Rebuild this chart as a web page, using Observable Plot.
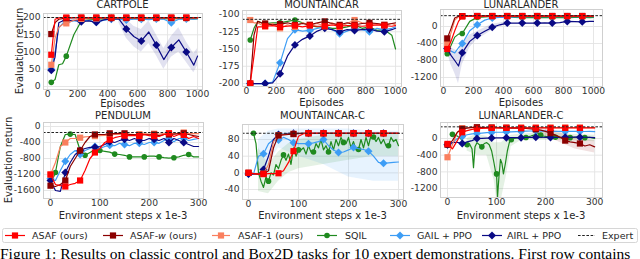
<!DOCTYPE html>
<html><head><meta charset="utf-8">
<script src="https://cdn.jsdelivr.net/npm/d3@7"></script>
<script src="https://cdn.jsdelivr.net/npm/@observablehq/plot@0.6"></script>
<style>
html,body{margin:0;padding:0;background:#fff;}
#root{position:relative;width:640px;height:259px;overflow:hidden;font-family:"DejaVu Sans",sans-serif;color:#262626;}
.abs{position:absolute;white-space:nowrap;line-height:1;}
.ctr{transform:translate(-50%,-50%);}
.rot{transform:translate(-50%,-50%) rotate(-90deg);}
#caption{position:absolute;left:0;top:245.5px;font-family:"Liberation Serif","Times New Roman",serif;font-size:15.5px;line-height:15.5px;white-space:nowrap;color:#000;}
</style></head>
<body><div id="root"></div>
<script>
// ---------- shared x grids ----------
const topX = [25,50,75,100,125,175,225,275,325,375,425,475,525,575,625,675,725,775,825,875,925,975,1000];
const topMarkX = [25,125,225,325,425,525,625,725,825,925];
const botX = [0,10,20,30,40,50,60,70,80,90,100,110,120,130,140,150,160,170,180,190,200,210,220,230,240,250,260,270,280,290,300];
const botMarkX = [0,30,60,90,120,150,180,210,240,270];
const sqilMarkX = [10,40,70,100,130,160,190,220,250,280];
const topXTicks = [0,200,400,600,800,1000];
const botXTicks = [0,100,200,300];

// ---------- CARTPOLE ----------
const cartASAF  = [92,195,199,200,200,200,200,200,200,200,200,200,200,200,200,200,200,200,200,200,200,200,200];
const cartASAFw = [152,185,195,197,198,199,199,199,199,199,199,199,199,199,199,199,199,199,199,199,199,199,199];
const cartASAF1 = [63,140,172,180,183,192,196,197,197,198,198,198,198,198,198,198,198,198,198,198,198,198,198];
const cartSQIL  = [12,20,63,66,88,150,190,193,195,196,197,196,197,197,196,197,197,197,196,197,197,196,197];
const cartGAIL  = [50,100,170,182,186,190,190,192,186,192,195,195,193,195,195,194,196,195,185,195,196,195,196];
const cartAIRL  = [47,85,185,190,191,192,188,190,186,193,197,196,167,145,132,158,120,78,113,135,100,62,88];
const cartAIRLBandX  = [475,525,575,625,675,725,775,825,875,925,975,1000];
const cartAIRLBandLo = [185,140,115,100,125,90,50,85,100,70,40,60];
const cartAIRLBandHi = [200,195,175,165,190,150,110,145,170,130,95,110];
const cartExpert = 200;

// ---------- MOUNTAINCAR ----------
const mcASAF  = [-200,-160,-118,-118,-117,-116,-118,-117,-116,-118,-116,-117,-117,-115,-117,-116,-116,-117,-116,-115,-116,-117,-116];
const mcASAFw = [-200,-130,-110,-112,-113,-115,-114,-112,-115,-113,-115,-112,-110,-113,-115,-112,-115,-113,-112,-113,-115,-113,-112];
const mcASAF1 = [-108,-112,-112,-115,-117,-113,-120,-115,-118,-112,-115,-113,-117,-112,-118,-113,-108,-112,-115,-113,-115,-113,-115];
const mcSQIL  = [-137,-120,-110,-112,-113,-112,-112,-110,-108,-112,-116,-118,-118,-120,-120,-118,-115,-120,-118,-123,-122,-130,-150];
const mcGAIL  = [-200,-200,-200,-200,-200,-198,-170,-135,-122,-124,-123,-120,-118,-122,-128,-124,-120,-122,-125,-120,-122,-120,-118];
const mcAIRL  = [-200,-200,-200,-200,-200,-199,-186,-160,-144,-136,-131,-124,-120,-122,-125,-122,-123,-122,-121,-124,-125,-122,-120];
const mcExpert = -107;

// ---------- LUNARLANDER ----------
const llASAF  = [-530,-350,-100,120,240,245,245,245,245,245,245,245,245,245,245,245,245,245,245,245,245,245,245];
const llASAFw = [-280,-50,200,240,245,248,248,248,248,248,248,248,248,248,248,248,248,248,248,248,248,248,248];
const llASAF1 = [-400,-150,150,230,240,245,245,245,245,245,245,245,245,245,245,245,245,245,245,245,245,245,245];
const llSQIL  = [-640,-450,-250,-180,-165,120,215,225,240,230,225,215,210,212,210,215,210,212,210,215,212,210,212];
const llGAIL  = [-520,-580,-620,-500,-400,-100,40,150,200,215,220,225,228,230,230,230,230,230,230,230,230,230,230];
const llAIRL  = [-520,-680,-800,-930,-620,-350,-210,-110,-20,40,80,80,80,80,80,85,80,90,120,115,110,120,120];
const llAIRLBandX  = [25,50,75,100,125,175,225,275,325,375,425];
const llAIRLBandLo = [-600,-900,-1100,-1350,-900,-500,-300,-200,-80,0,40];
const llAIRLBandHi = [-450,-500,-550,-600,-400,-200,-120,-30,50,80,120];
const llExpert = 255;

// ---------- PENDULUM ----------
const penASAF  = [-1200,-1450,-1480,-1500,-1450,-1420,-1350,-1100,-800,-650,-550,-400,-330,-280,-250,-230,-230,-220,-240,-200,-230,-240,-250,-200,-170,-250,-200,-210,-300,-250,-300];
const penASAFw = [-1480,-1500,-1450,-1350,-1000,-800,-600,-400,-250,-200,-200,-200,-170,-180,-170,-170,-200,-200,-220,-200,-210,-200,-230,-200,-200,-190,-180,-170,-200,-230,-250];
const penASAF1 = [-1200,-900,-500,-400,-300,-300,-280,-260,-250,-240,-230,-220,-210,-200,-200,-200,-190,-200,-190,-180,-190,-180,-190,-180,-170,-180,-170,-150,-170,-180,-180];
const penSQIL  = [-1450,-1150,-500,-200,-190,-200,-600,-720,-650,-580,-600,-620,-640,-690,-700,-720,-760,-760,-760,-760,-740,-740,-760,-780,-790,-780,-760,-720,-700,-760,-760];
const penGAIL  = [-1300,-1350,-1100,-870,-700,-600,-700,-600,-550,-500,-550,-500,-470,-480,-420,-450,-480,-420,-420,-450,-400,-400,-420,-350,-300,-380,-300,-300,-350,-320,-300];
const penAIRL  = [-1350,-1600,-1620,-1150,-900,-700,-600,-550,-520,-520,-500,-450,-380,-400,-350,-320,-350,-300,-350,-350,-300,-320,-350,-300,-400,-300,-350,-400,-450,-500,-500];
const penExpert = -150;

// ---------- MOUNTAINCAR-C ----------
const mccASAF  = [0,-2,-3,-3,-2,-2,-1,5,25,52,88,94,95,95,95,95,95,95,95,95,95,95,95,95,95,95,95,95,95,95,95];
const mccASAFw = [0,-2,-3,-2,5,60,90,91,92,93,94,95,95,95,95,95,95,95,95,95,95,95,95,95,95,95,95,95,95,95,95];
const mccASAF1 = [0,-2,-3,-2,20,75,90,92,93,94,95,95,95,95,95,95,95,95,95,95,95,95,95,95,95,95,95,95,95,95,95];
const mccGAIL  = [-3,-3,40,46,70,80,79,85,80,72,70,70,70,72,75,80,65,55,49,50,55,61,58,56,52,40,25,23,24,25,26];
const mccAIRL  = [-3,-3,-3,8,40,80,92,93,95,95,95,95,95,95,95,95,95,95,95,95,95,95,95,95,95,95,95,95,95,95,95];
const mccSQILX = [10,15,20,25,30,35,40,45,50,55,60,65,70,75,80,85,90,95,100,105,110,115,120,125,130,135,140,145,150,155,160,165,170,175,180,185,190,195,200,205,210,215,220,225,230,235,240,245,250,255,260,265,270,275,280,285,290,295,300];
const mccSQIL  = [95,70,0,-20,-35,-10,-20,0,-5,20,10,30,43,30,45,20,60,40,55,55,60,45,65,50,50,70,60,80,55,65,50,75,55,80,65,85,73,70,85,60,75,55,56,80,60,85,65,90,86,75,85,70,80,65,65,85,75,80,65];
const mccSQILBandX  = [20,40,60,80,100,150,200,250,300];
const mccSQILBandLo = [-45,-50,-20,0,10,20,30,40,40];
const mccSQILBandHi = [60,20,50,70,80,90,95,95,95];
const mccGAILBandX  = [20,40,60,100,150,200,250,300];
const mccGAILBandLo = [-10,20,60,40,20,-10,-20,-20];
const mccGAILBandHi = [80,100,105,105,105,105,100,100];
const mccExpert = 95;

// ---------- LUNARLANDER-C ----------
const llcASAF  = [-130,-250,-50,150,190,220,235,245,250,255,255,255,255,255,255,255,255,255,255,255,255,255,255,255,255,255,255,255,255,255,255];
const llcASAFw = [-150,-50,150,230,250,265,270,265,260,262,258,255,255,250,248,245,240,230,220,200,170,130,80,30,-50,-80,-100,-120,-180,-150,-200];
const llcASAF1 = [-450,-150,150,250,260,262,262,262,262,262,262,262,262,262,262,262,262,262,262,262,262,262,262,262,262,262,262,262,262,262,262];
const llcGAIL  = [-150,-100,0,50,90,110,120,130,140,145,150,150,155,160,165,170,175,180,180,178,175,175,170,172,170,172,170,170,168,170,165];
const llcAIRL  = [-150,-100,-90,-120,-80,-50,0,5,10,10,15,15,20,20,20,20,25,25,30,30,25,25,25,30,30,30,35,30,30,25,20];
const llcSQILX = [10,15,20,25,30,35,40,45,50,53,56,60,65,70,75,80,85,90,95,98,100,102,105,108,111,114,118,122,126,130,135,140,150,160,170,180,185,190,195,200,210,220,230,240,250,260,270,280,290,300];
const llcSQIL  = [100,80,60,20,-50,-100,-150,-130,-250,-700,-200,-100,-150,-200,-120,-100,-150,-300,-600,-800,-850,-1400,-900,-500,-600,-850,-600,-300,-100,-30,0,10,20,25,60,100,120,80,60,50,40,30,20,30,20,30,40,20,30,0];
const llcSQILBandX  = [40,60,80,95,100,105,110,120,130,150,200,250,300];
const llcSQILBandLo = [-300,-400,-400,-1000,-1450,-1450,-1450,-900,-200,-50,-50,-50,-80];
const llcSQILBandHi = [0,100,50,-100,-100,-100,-100,0,80,100,150,100,80];
const llcASAFwBandX  = [180,200,220,240,260,280,300];
const llcASAFwBandLo = [150,50,-50,-150,-250,-300,-350];
const llcASAFwBandHi = [260,250,200,100,50,-20,-50];
const llcExpert = 280;

// ---------- styles ----------
const S = {
  SQIL:  {color:"#1f8a1f", symbol:"circle",   r:2.8, label:"SQIL"},
  GAIL:  {color:"#3d9df5", symbol:"diamond2", r:3.6, label:"GAIL + PPO"},
  AIRL:  {color:"#0a0a85", symbol:"diamond2", r:3.6, label:"AIRL + PPO"},
  ASAF1: {color:"#fa7f5e", symbol:"square",   r:3.5, label:"ASAF-1 (ours)"},
  ASAFw: {color:"#8b0000", symbol:"square",   r:3.5, label:"ASAF-w (ours)"},
  ASAF:  {color:"#ff0000", symbol:"square",   r:3.5, label:"ASAF (ours)"}
};

const panels = [
  {title:"CARTPOLE", frame:[43,13,202,89], xd:[-27,1033], yd:[-8.7,211.6], xt:topXTicks, yt:[0,50,100,150,200],
   xlabel:"Episodes", xlabelY:103.5, titleY:5, ylabel:true, ylabelX:20, expert:cartExpert,
   bands:[{k:"AIRL",x:cartAIRLBandX,lo:cartAIRLBandLo,hi:cartAIRLBandHi}],
   series:[{k:"SQIL",x:topX,y:cartSQIL,m:topMarkX},{k:"GAIL",x:topX,y:cartGAIL,m:topMarkX},{k:"AIRL",x:topX,y:cartAIRL,m:topMarkX},
           {k:"ASAF1",x:topX,y:cartASAF1,m:topMarkX},{k:"ASAFw",x:topX,y:cartASAFw,m:topMarkX},{k:"ASAF",x:topX,y:cartASAF,m:topMarkX}]},
  {title:"MOUNTAINCAR", frame:[242,10,401,86], xd:[-27,1040], yd:[-204.3,-94.2], xt:topXTicks, yt:[-200,-175,-150,-125,-100],
   xlabel:"Episodes", xlabelY:102.5, titleY:5, expert:mcExpert, bands:[],
   series:[{k:"SQIL",x:topX,y:mcSQIL,m:topMarkX},{k:"GAIL",x:topX,y:mcGAIL,m:topMarkX},{k:"AIRL",x:topX,y:mcAIRL,m:topMarkX},
           {k:"ASAF1",x:topX,y:mcASAF1,m:topMarkX},{k:"ASAFw",x:topX,y:mcASAFw,m:topMarkX},{k:"ASAF",x:topX,y:mcASAF,m:topMarkX}]},
  {title:"LUNARLANDER", frame:[440,9,602,86], xd:[-20,1060], yd:[-1412,400], xt:topXTicks, yt:[-1200,-800,-400,0],
   xlabel:"Episodes", xlabelY:102.5, titleY:5, expert:llExpert,
   bands:[{k:"AIRL",x:llAIRLBandX,lo:llAIRLBandLo,hi:llAIRLBandHi}],
   series:[{k:"SQIL",x:topX,y:llSQIL,m:topMarkX},{k:"GAIL",x:topX,y:llGAIL,m:topMarkX},{k:"AIRL",x:topX,y:llAIRL,m:topMarkX},
           {k:"ASAF1",x:topX,y:llASAF1,m:topMarkX},{k:"ASAFw",x:topX,y:llASAFw,m:topMarkX},{k:"ASAF",x:topX,y:llASAF,m:topMarkX}]},
  {title:"PENDULUM", frame:[43,122,203,198], xd:[-14.2,310], yd:[-1800,100], xt:botXTicks, yt:[-1600,-1200,-800,-400,0],
   xlabel:"Environment steps x 1e-3", xlabelY:216, titleY:116, ylabel:true, ylabelX:9, expert:penExpert, bands:[],
   series:[{k:"SQIL",x:botX,y:penSQIL,m:sqilMarkX},{k:"GAIL",x:botX,y:penGAIL,m:botMarkX},{k:"AIRL",x:botX,y:penAIRL,m:botMarkX},
           {k:"ASAF1",x:botX,y:penASAF1,m:botMarkX},{k:"ASAFw",x:botX,y:penASAFw,m:botMarkX},{k:"ASAF",x:botX,y:penASAF,m:botMarkX}]},
  {title:"MOUNTAINCAR-C", frame:[242,124,403,199], xd:[-12,310], yd:[-64,116], xt:botXTicks, yt:[-40,0,40,80],
   xlabel:"Environment steps x 1e-3", xlabelY:216, titleY:116, expert:mccExpert,
   bands:[{k:"GAIL",x:mccGAILBandX,lo:mccGAILBandLo,hi:mccGAILBandHi},{k:"SQIL",x:mccSQILBandX,lo:mccSQILBandLo,hi:mccSQILBandHi}],
   series:[{k:"SQIL",x:mccSQILX,y:mccSQIL,m:sqilMarkX},{k:"GAIL",x:botX,y:mccGAIL,m:botMarkX},{k:"AIRL",x:botX,y:mccAIRL,m:botMarkX},
           {k:"ASAF1",x:botX,y:mccASAF1,m:botMarkX},{k:"ASAFw",x:botX,y:mccASAFw,m:botMarkX},{k:"ASAF",x:botX,y:mccASAF,m:botMarkX}]},
  {title:"LUNARLANDER-C", frame:[440,122,602,197], xd:[-14.3,316], yd:[-1416,384], xt:botXTicks, yt:[-1200,-800,-400,0],
   xlabel:"Environment steps x 1e-3", xlabelY:216, titleY:116, expert:llcExpert,
   bands:[{k:"SQIL",x:llcSQILBandX,lo:llcSQILBandLo,hi:llcSQILBandHi},{k:"ASAFw",x:llcASAFwBandX,lo:llcASAFwBandLo,hi:llcASAFwBandHi}],
   series:[{k:"SQIL",x:llcSQILX,y:llcSQIL,m:sqilMarkX},{k:"GAIL",x:botX,y:llcGAIL,m:botMarkX},{k:"AIRL",x:botX,y:llcAIRL,m:botMarkX},
           {k:"ASAF1",x:botX,y:llcASAF1,m:botMarkX},{k:"ASAFw",x:botX,y:llcASAFw,m:botMarkX},{k:"ASAF",x:botX,y:llcASAF,m:botMarkX}]}
];

const root = document.getElementById("root");
function addText(txt, x, y, cls, size, extra) {
  const d = document.createElement("div");
  d.className = "abs " + cls;
  d.style.left = x + "px"; d.style.top = y + "px"; d.style.fontSize = size + "px";
  if (extra) Object.assign(d.style, extra);
  d.textContent = txt;
  root.appendChild(d);
  return d;
}

for (const p of panels) {
  const [L,T,R,B] = p.frame;
  const ml = 40, mr = 4, mt = 4, mb = 14;
  const marks = [
    Plot.gridX(p.xt, {stroke:"#e3e3e3", strokeOpacity:1, strokeWidth:0.9}),
    Plot.gridY(p.yt, {stroke:"#e3e3e3", strokeOpacity:1, strokeWidth:0.9})
  ];
  for (const b of p.bands) {
    const rows = b.x.map((x,i)=>({x, lo:b.lo[i], hi:b.hi[i]}));
    marks.push(Plot.areaY(rows, {x:"x", y1:"lo", y2:"hi", fill:S[b.k].color, fillOpacity:0.12, clip:true}));
  }
  for (const s of p.series) {
    const st = S[s.k];
    const rows = s.x.map((x,i)=>({x, y:s.y[i]}));
    marks.push(Plot.line(rows, {x:"x", y:"y", stroke:st.color, strokeWidth:1.2, clip:true}));
    marks.push(Plot.dot(rows.filter(r => s.m.includes(r.x)), {x:"x", y:"y", symbol:st.symbol, fill:st.color, r:st.r, clip:true}));
  }
  marks.push(Plot.ruleY([p.expert], {stroke:"#222", strokeWidth:1, strokeDasharray:"2.6,1.6"}));
  marks.push(Plot.frame({stroke:"#cfcfcf", strokeWidth:1}));
  marks.push(Plot.axisX(p.xt, {tickSize:0, tickPadding:0.6, label:null, fontSize:9.2, tickFormat:d=>String(d)}));
  marks.push(Plot.axisY(p.yt, {tickSize:0, tickPadding:3, label:null, fontSize:9.2, tickFormat:d=>String(d)}));
  const svg = Plot.plot({
    width: (R-L) + ml + mr, height: (B-T) + mt + mb,
    marginLeft: ml, marginRight: mr, marginTop: mt, marginBottom: mb,
    x: {domain: p.xd}, y: {domain: p.yd},
    style: {fontFamily:"DejaVu Sans", color:"#333", background:"transparent", overflow:"visible"},
    marks
  });
  svg.style.position = "absolute";
  svg.style.left = (L - ml) + "px";
  svg.style.top = (T - mt) + "px";
  root.appendChild(svg);
  addText(p.title, (L+R)/2, p.titleY, "ctr", 10);
  addText(p.xlabel, (L+R)/2, p.xlabelY, "ctr", 10);
  if (p.ylabel) addText("Evaluation return", p.ylabelX, (T+B)/2, "rot", 10);
}

// ---------- legend ----------
const legendItems = [
  {k:"ASAF",  x1:5,   x2:25,  tx:32},
  {k:"ASAFw", x1:103, x2:123, tx:130},
  {k:"ASAF1", x1:212, x2:230, tx:238},
  {k:"SQIL",  x1:317, x2:337, tx:345},
  {k:"GAIL",  x1:390, x2:410, tx:417},
  {k:"AIRL",  x1:482, x2:502, tx:507},
  {k:"Expert",x1:578, x2:595, tx:602}
];
const lg = d3.create("svg").attr("width",640).attr("height",20)
  .style("position","absolute").style("left","0px").style("top","226px");
lg.append("rect").attr("x",2.5).attr("y",2.5).attr("width",635).attr("height",14).attr("rx",2)
  .attr("fill","#fff").attr("stroke","#d6d6d6");
const ly = 9.5;
for (const it of legendItems) {
  if (it.k === "Expert") {
    lg.append("line").attr("x1",it.x1).attr("x2",it.x2).attr("y1",ly).attr("y2",ly)
      .attr("stroke","#222").attr("stroke-width",1).attr("stroke-dasharray","2.6,1.6");
    lg.append("text").attr("x",it.tx).attr("y",ly).attr("dy","0.35em").attr("font-size",9.5)
      .attr("font-family","DejaVu Sans").attr("fill","#262626").text("Expert");
    continue;
  }
  const st = S[it.k];
  lg.append("line").attr("x1",it.x1).attr("x2",it.x2).attr("y1",ly).attr("y2",ly)
    .attr("stroke",st.color).attr("stroke-width",1.2);
  const sym = {square:d3.symbolSquare, circle:d3.symbolCircle, diamond2:d3.symbolDiamond2}[st.symbol];
  lg.append("path").attr("d", d3.symbol(sym, Math.PI*st.r*st.r)())
    .attr("transform",`translate(${(it.x1+it.x2)/2},${ly})`).attr("fill",st.color);
  const t = lg.append("text").attr("x",it.tx).attr("y",ly).attr("dy","0.35em").attr("font-size",9.5)
    .attr("font-family","DejaVu Sans").attr("fill","#262626");
  if (it.k === "ASAFw") {
    t.append("tspan").text("ASAF-");
    t.append("tspan").attr("font-style","italic").text("w");
    t.append("tspan").text(" (ours)");
  } else t.text(st.label);
}
root.appendChild(lg.node());

const cap = document.createElement("div");
cap.id = "caption";
cap.textContent = "Figure 1: Results on classic control and Box2D tasks for 10 expert demonstrations. First row contains";
root.appendChild(cap);
</script>
</body></html>
